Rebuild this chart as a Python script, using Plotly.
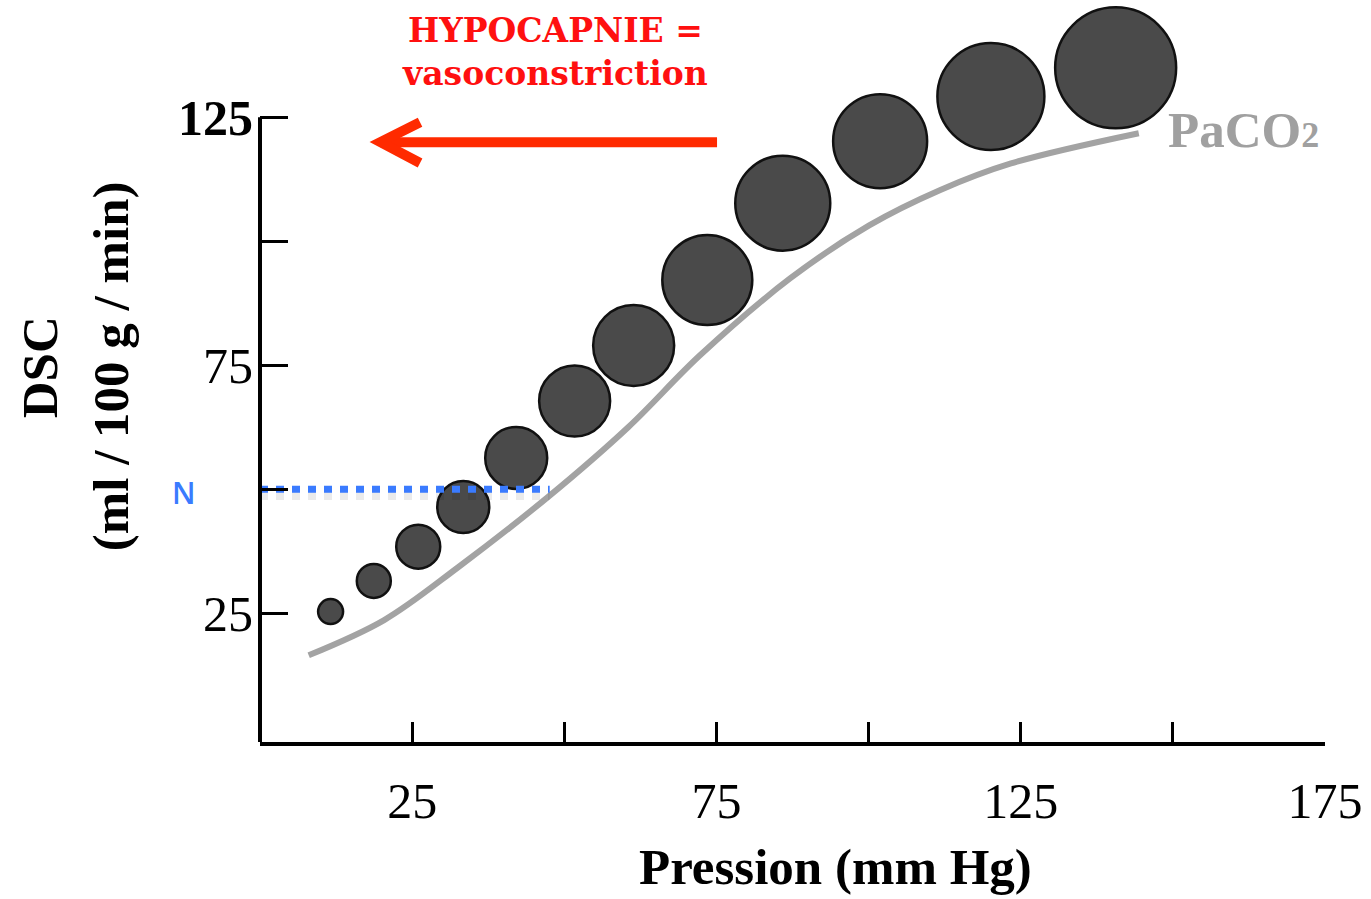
import plotly.graph_objects as go

# ---- data ----
circle_x = [11.6, 18.7, 26.0, 33.4, 42.1, 51.7, 61.4, 73.5, 85.9, 101.9, 120.1, 140.6]
circle_y = [25.3, 31.5, 38.4, 46.4, 56.3, 67.8, 79.0, 92.2, 107.7, 120.2, 129.2, 135.0]
circle_size = [25, 34, 44, 52, 62, 71, 81, 90, 95, 94, 107, 121]

paco2_x = [8.0, 20.4, 32.4, 47.3, 60.5, 72.3, 87.1, 100.1, 111.7, 123.4, 144.4]
paco2_y = [16.5, 23.6, 34.1, 48.4, 62.5, 77.0, 92.5, 103.2, 110.3, 115.7, 121.8]

normal_level = 50
normal_x = [0, 47.6]

x_tickvals = [25, 50, 75, 100, 125, 150, 175]
x_ticktext = ["25", "", "75", "", "125", "", "175"]
y_tickvals = [25, 50, 75, 100, 125]
y_ticktext = ["25", "", "75", "", "<b>125</b>"]

X_RANGE = [0, 175]
Y_RANGE = [-1, 140]
Y_AXIS_TOP = 125

# arrow (annotation decoration)
arrow_tail_x, arrow_tip_x, arrow_y = 75.1, 19.8, 120.0
arrow_arm_x, arrow_arm_up, arrow_arm_dn = 26.3, 124.0, 115.8

# ---- layout geometry (pixels) ----
W, H = 1371, 899
L, R, B = 260, 46, 157
PLOT_H = 699.4
T = H - B - PLOT_H
PLOT_W = W - L - R


def px(xp):
    return (xp - L) / PLOT_W


def py(yp):
    return (H - B - yp) / PLOT_H


fig = go.Figure()

fig.add_trace(go.Scatter(
    x=paco2_x, y=paco2_y, mode="lines",
    line=dict(color="#a3a3a3", width=6, shape="spline", smoothing=1.0),
    hoverinfo="skip", showlegend=False,
))

fig.add_trace(go.Scatter(
    x=circle_x, y=circle_y, mode="markers",
    marker=dict(size=circle_size, color="#4a4a4a", opacity=1,
                line=dict(color="#111111", width=2.5)),
    cliponaxis=False, hoverinfo="skip", showlegend=False,
))

# soft shadow under the normal line
fig.add_trace(go.Scatter(
    x=normal_x, y=[normal_level - 1.2] * 2, mode="lines",
    line=dict(color="rgba(0,0,0,0.08)", width=10, dash="8px,8px"),
    hoverinfo="skip", showlegend=False,
))
fig.add_trace(go.Scatter(
    x=normal_x, y=[normal_level] * 2, mode="lines",
    line=dict(color="#3a7bff", width=7, dash="8px,8px"),
    hoverinfo="skip", showlegend=False,
))

# y axis line, stopping at the 125 tick
y_frac = lambda v: (v - Y_RANGE[0]) / (Y_RANGE[1] - Y_RANGE[0])
fig.add_shape(type="line", xref="paper", yref="paper",
              x0=0, x1=0, y0=y_frac(Y_RANGE[0]), y1=y_frac(Y_AXIS_TOP),
              line=dict(color="black", width=4))

red = "#ff2a00"
fig.add_shape(type="path", xref="x", yref="y",
              path=f"M{arrow_tail_x},{arrow_y} L{arrow_tip_x},{arrow_y}",
              line=dict(color=red, width=10))
fig.add_shape(type="path", xref="x", yref="y",
              path=f"M{arrow_arm_x},{arrow_arm_up} L{arrow_tip_x},{arrow_y} L{arrow_arm_x},{arrow_arm_dn}",
              line=dict(color=red, width=10))

serif = "Liberation Serif"
fig.add_annotation(x=px(555), y=py(51.5), xref="paper", yref="paper", showarrow=False,
                   text="HYPOCAPNIE =<br>vasoconstriction",
                   font=dict(family="DejaVu Serif", size=33, color="#ff1010", weight=700),
                   xanchor="center", yanchor="middle")
fig.add_annotation(x=px(1166), y=py(130), xref="paper", yref="paper", showarrow=False,
                   text="PaCO<span style='font-size:36px'>2</span>",
                   font=dict(family=serif, size=51, color="#a0a0a0", weight=700),
                   xanchor="left", yanchor="middle")
fig.add_annotation(x=px(184), y=py(492), xref="paper", yref="paper", showarrow=False,
                   text="N", font=dict(family="Open Sans", size=30, color="#3a7bff", weight=600),
                   xanchor="center", yanchor="middle")
fig.add_annotation(x=px(40), y=py(367), xref="paper", yref="paper", showarrow=False,
                   text="DSC", textangle=-90,
                   font=dict(family=serif, size=51, color="black", weight=700),
                   xanchor="center", yanchor="middle")
fig.add_annotation(x=px(111), y=py(366), xref="paper", yref="paper", showarrow=False,
                   text="(ml / 100 g / min)", textangle=-90,
                   font=dict(family=serif, size=51, color="black", weight=700),
                   xanchor="center", yanchor="middle")
fig.add_annotation(x=px(835), y=py(867), xref="paper", yref="paper", showarrow=False,
                   text="Pression (mm Hg)",
                   font=dict(family=serif, size=51, color="black", weight=700),
                   xanchor="center", yanchor="middle")

fig.update_layout(
    width=W, height=H,
    margin=dict(l=L, r=R, t=T, b=B, autoexpand=False),
    paper_bgcolor="white", plot_bgcolor="white",
    xaxis=dict(range=X_RANGE, showgrid=False, zeroline=False,
               showline=True, linecolor="black", linewidth=4,
               ticks="inside", ticklen=20, tickwidth=3, tickcolor="black",
               tickvals=x_tickvals, ticktext=x_ticktext,
               tickfont=dict(family=serif, size=50, color="black"),
               ticklabelstandoff=12),
    yaxis=dict(range=Y_RANGE, showgrid=False, zeroline=False,
               showline=False,
               ticks="inside", ticklen=28, tickwidth=3, tickcolor="black",
               tickvals=y_tickvals, ticktext=y_ticktext,
               tickfont=dict(family=serif, size=50, color="black"),
               ticklabelstandoff=6),
)

fig.write_html("out.html", config={"displayModeBar": False},
               post_script="document.body.style.margin='0';")
